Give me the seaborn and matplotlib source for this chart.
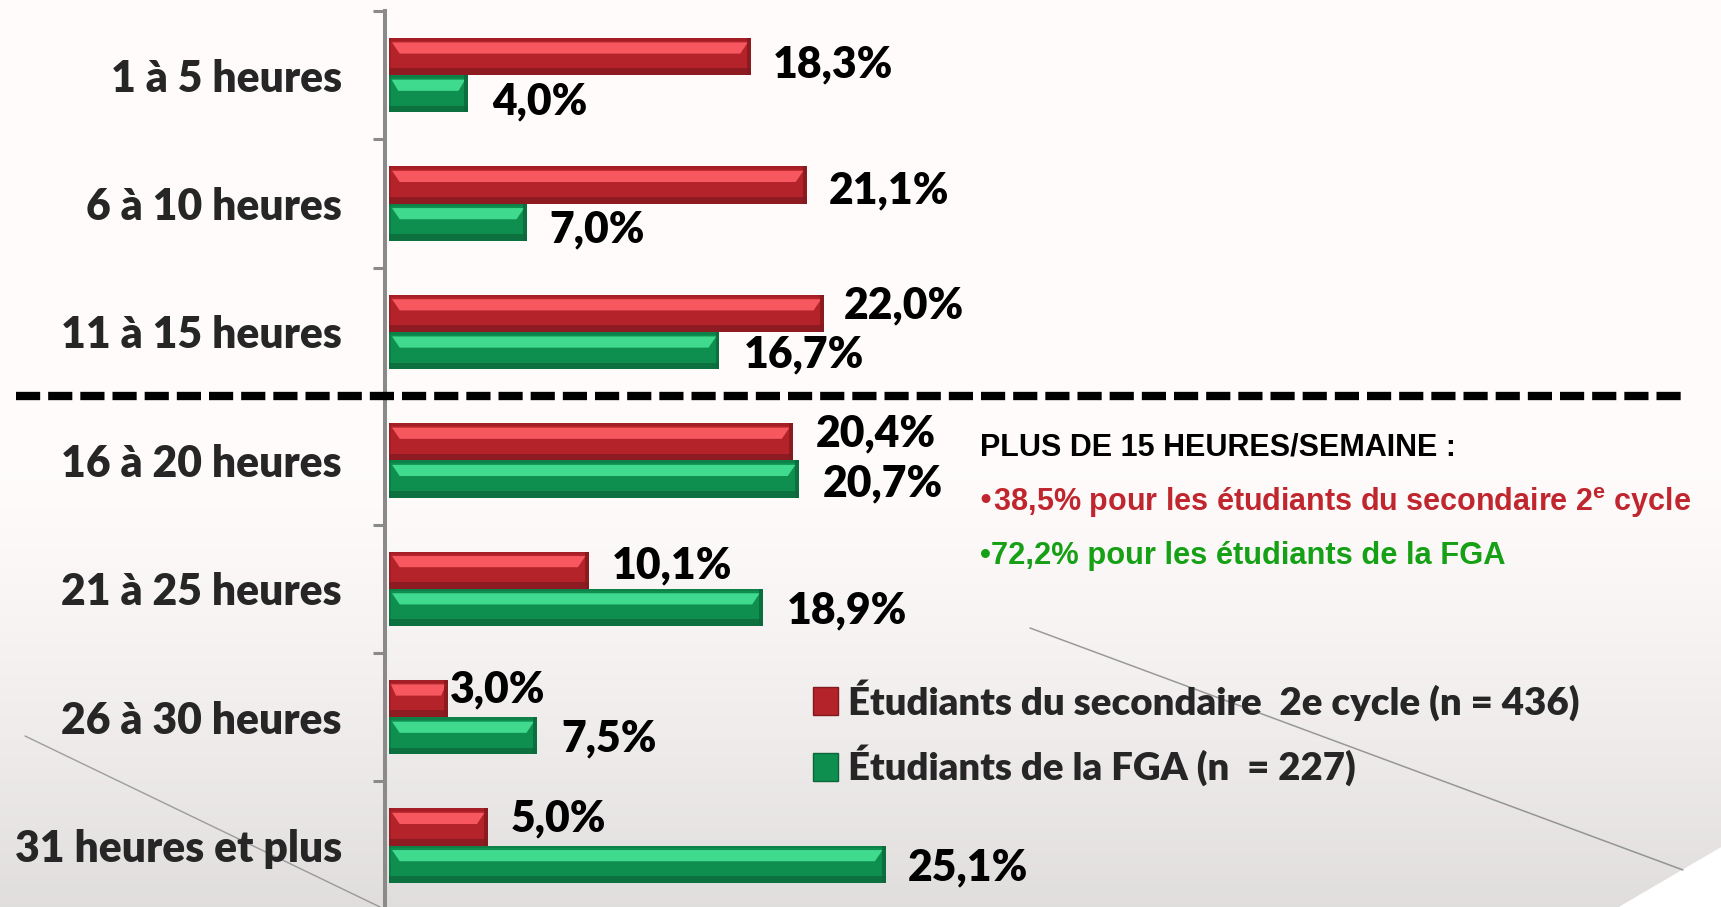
import numpy as np
import pandas as pd
import matplotlib
matplotlib.use("Agg")
import matplotlib.pyplot as plt
from matplotlib.patches import Rectangle, Patch, Polygon
import seaborn as sns

# ---------------- data ----------------
categories = ["1 à 5 heures", "6 à 10 heures", "11 à 15 heures", "16 à 20 heures",
              "21 à 25 heures", "26 à 30 heures", "31 heures et plus"]
secondaire = [18.3, 21.1, 22.0, 20.4, 10.1, 3.0, 5.0]
fga = [4.0, 7.0, 16.7, 20.7, 18.9, 7.5, 25.1]
series_names = ["Étudiants du secondaire  2e cycle (n = 436)", "Étudiants de la FGA (n  = 227)"]
note_title = "PLUS DE 15 HEURES/SEMAINE :"
note_red = "•38,5% pour les étudiants du secondaire 2$^{\\mathregular{e}}$ cycle"
note_green = "•72,2% pour les étudiants de la FGA"

# ---------------- style ----------------
RED, RED_L, RED_D = "#B5232A", "#FF5E66", "#82191E"
GRN, GRN_L, GRN_D = "#0F8F4F", "#45E394", "#0B673A"
W, H = 1721, 907
FW = "heavy"
FS = 30.7
# label offsets in pixels (dx right, dy down) per group
red_dx = [22, 22, 19, 23, 23, 2, 23]
red_dy = [8, 5, -8, -8, -5, -9, -9]
grn_dx = [24, 22, 24, 24, 24, 24, 22]
grn_dy = [8, 7, 4, 4, 3, 3, 3]

sns.set_style("white")
plt.rcParams["font.family"] = ["Lato", "DejaVu Sans"]
plt.rcParams["font.weight"] = FW

fig = plt.figure(figsize=(W / 100, H / 100), dpi=100)

# background
bg = fig.add_axes([0, 0, 1, 1], zorder=0)
yy, xx = np.mgrid[0:H:4, 0:W:4]
t = np.clip((yy - 470) / (H - 470), 0, 1) ** 1.3
g = 1 - 0.12 * t
img = np.dstack([g, g * 0.985, g * 0.985])
bg.imshow(img, extent=(0, W, H, 0), aspect="auto", interpolation="bilinear")
bg.plot([25, 380], [736, 907], color="#6a6a6a", lw=1.0, alpha=0.6)
bg.plot([1030, 1683], [628, 870], color="#5f5f5f", lw=1.1, alpha=0.6)
bg.add_patch(Polygon([[1620, 907], [1721, 848], [1721, 907]], color="white"))
bg.set_xlim(0, W)
bg.set_ylim(H, 0)
bg.axis("off")

# main axes
ax_left, ax_top, grp = 385, 11, 128.4
ax_h = 7 * grp
ax = fig.add_axes([ax_left / W, 1 - (ax_top + ax_h) / H, (W - ax_left) / W, ax_h / H], zorder=2)
ax.patch.set_alpha(0)

df = pd.DataFrame({
    "cat": categories * 2,
    "val": secondaire + fga,
    "grp": [series_names[0]] * len(categories) + [series_names[1]] * len(categories),
})
sns.barplot(data=df, y="cat", x="val", hue="grp", order=categories, hue_order=series_names,
            palette=[RED, GRN], width=0.58, orient="h", ax=ax, legend=False,
            edgecolor="none", linewidth=0, saturation=1)

px_per_unit = 19.8
xmin = -3.8 / px_per_unit
ax.set_xlim(xmin, xmin + (W - ax_left) / px_per_unit)
ax.set_ylim(6.5, -0.5)

# bevel effect
for cont, light, dark in zip(ax.containers, [RED_L, GRN_L], [RED_D, GRN_D]):
    for bar in cont:
        x0, y0, w, h = bar.get_x(), bar.get_y(), bar.get_width(), bar.get_height()
        bev = min(0.55, w * 0.12)
        ax.add_patch(Rectangle((x0, y0), w, h * 0.07, color=dark, alpha=0.35, lw=0, zorder=3))
        ax.add_patch(Polygon([[x0 + bev * 0.3, y0 + 0.12 * h], [x0 + w - bev * 0.3, y0 + 0.12 * h],
                              [x0 + w - bev, y0 + 0.42 * h], [x0 + bev, y0 + 0.42 * h]],
                             color=light, lw=0, alpha=0.9, zorder=3))
        ax.add_patch(Rectangle((x0, y0 + 0.82 * h), w, 0.18 * h, color=dark, alpha=0.75, lw=0, zorder=3))
        ax.add_patch(Rectangle((x0 + w - 0.2, y0), 0.2, h, color=dark, alpha=0.8, lw=0, zorder=3))
        ax.add_patch(Rectangle((x0, y0), 0.12, h, color=dark, alpha=0.4, lw=0, zorder=3))

# value labels
def fmt(v):
    return f"{v:.1f}%".replace(".", ",")

for cont, vals, dxs, dys in zip(ax.containers, [secondaire, fga], [red_dx, grn_dx], [red_dy, grn_dy]):
    for bar, v, dx, dy in zip(cont, vals, dxs, dys):
        yc = bar.get_y() + bar.get_height() / 2
        ax.annotate(fmt(v), (bar.get_x() + bar.get_width(), yc), xytext=(dx, -dy),
                    textcoords="offset pixels", ha="left", va="center",
                    fontsize=FS, fontweight=FW, color="black", annotation_clip=False)

# axes styling
for s in ["top", "right", "bottom"]:
    ax.spines[s].set_visible(False)
ax.spines["left"].set_color("#8a8a8a")
ax.spines["left"].set_linewidth(2.9)
ax.set_xticks([])
ax.set_xlabel("")
ax.set_ylabel("")
ax.set_yticks(range(len(categories)))
ax.set_yticklabels(categories, fontweight=FW, fontsize=FS)
ax.set_yticks(np.arange(-0.5, 7.0, 1.0), minor=True)
ax.tick_params(axis="y", which="minor", length=9, width=2.2, color="#8a8a8a", left=True)
ax.tick_params(axis="y", which="major", length=0, pad=31)

# dashed separator between 11-15 and 16-20
ax.axhline(2.5, xmin=(16 - ax_left) / (W - ax_left), xmax=(1681 - ax_left) / (W - ax_left),
           color="black", lw=6, dashes=(2.9, 0.96), clip_on=False, zorder=4)

# note text
note_font = ["Liberation Sans Narrow", "Arial Narrow", "Liberation Sans", "DejaVu Sans"]
fig.text(980 / W, 1 - 447 / H, note_title, family=note_font, fontweight="bold",
         fontsize=22, color="black", ha="left", va="center")
fig.text(976 / W, 1 - 503 / H, note_red, family=note_font, fontweight="bold",
         fontsize=22, color="#C0262D", ha="left", va="center")
fig.text(980 / W, 1 - 556 / H, note_green, family=note_font, fontweight="bold",
         fontsize=22.2, color="#16A016", ha="left", va="center")

# legend
handles = [Patch(facecolor=RED, edgecolor=RED_D), Patch(facecolor=GRN, edgecolor=GRN_D)]
leg = ax.legend(handles, series_names, loc="upper left", bbox_to_anchor=(813 / W, 1 - 679 / H),
                bbox_transform=fig.transFigure, frameon=False, fontsize=27.6,
                handlelength=0.65, handleheight=0.75, handletextpad=0.25, labelspacing=0.62,
                borderpad=0, borderaxespad=0)
for txt in leg.get_texts():
    txt.set_fontweight(FW)

fig.savefig("out.png", dpi=100)
